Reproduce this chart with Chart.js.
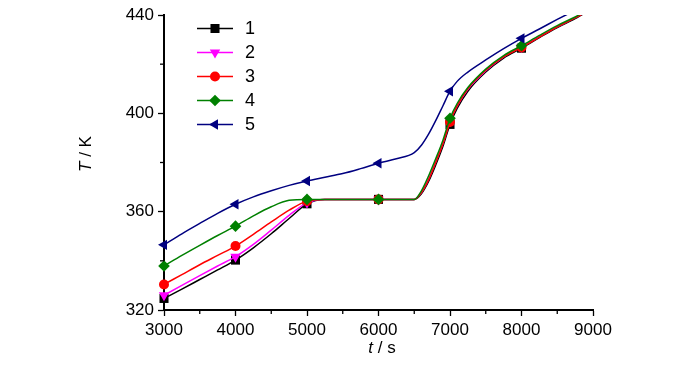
<!DOCTYPE html>
<html>
<head>
<meta charset="utf-8">
<script src="https://cdn.jsdelivr.net/npm/chart.js@4.4.1/dist/chart.umd.min.js"></script>
<style>
  html, body { margin: 0; padding: 0; background: #fff; }
  #wrap { width: 700px; height: 365px; position: relative; }
</style>
</head>
<body>
<div id="wrap"><canvas id="c" width="700" height="365"></canvas></div>
<script>
// ---- data ----
const seriesNames = ['1', '2', '3', '4', '5'];
const timesA = [3000,3250,3500,3750,4000,4250,4500,4750,5000,5250,5500,6000,6500,6600,6700,6800,6900,7000,7100,7250,7500,7750,8000,8250,8500,8750,8850];
const s1 = [324.7,328.5,332.4,336.3,340.3,345.3,351.0,357.2,363.2,365.0,365.0,365.0,365.0,367.3,372.3,379.0,386.5,395.5,402.0,409.0,416.8,422.5,426.5,430.8,434.9,438.5,440.2];
const s2 = [326.0,330.0,334.0,337.9,341.7,346.7,352.5,358.5,363.6,365.0,365.0,365.0,365.0,367.8,373.2,380.2,387.7,396.8,403.0,409.8,417.3,423.0,427.0,431.2,435.3,438.9,440.5];
const s3 = [330.4,334.4,338.4,342.2,346.0,350.8,355.8,360.6,364.3,365.0,365.0,365.0,365.0,367.8,373.0,380.0,387.5,396.5,403.0,410.0,417.5,423.0,426.8,431.0,435.2,438.8,440.4];
const s4 = [337.9,342.2,346.3,350.3,354.1,358.3,362.0,364.6,365.0,365.0,365.0,365.0,365.0,368.5,374.5,381.5,389.0,398.0,404.0,410.5,418.0,423.5,427.5,431.7,435.7,439.2,440.8];
const timesB = [3000,3250,3500,3750,4000,4250,4500,4750,5000,5250,5500,5750,6000,6250,6500,6600,6700,6800,6900,7000,7100,7250,7500,7750,8000,8250,8500,8700];
const s5 = [346.5,351.0,355.2,359.3,363.0,366.0,368.5,370.7,372.5,374.0,375.5,377.5,379.7,381.5,384.0,387.0,391.5,397.0,403.0,409.0,413.0,416.8,421.7,426.3,430.5,434.3,438.2,441.2];
const xTicks = [3000,4000,5000,6000,7000,8000,9000];
const yTicks = [320,360,400,440];

// ---- styles ----
const colors = ['#000000', '#ff00ff', '#ff0000', '#008000', '#000080'];
const styles = [
  {pointStyle: 'rect', radius: 6.4, rotation: 0},
  {pointStyle: 'triangle', radius: 6.0, rotation: 180},
  {pointStyle: 'circle', radius: 5.0, rotation: 0},
  {pointStyle: 'rectRot', radius: 5.8, rotation: 0},
  {pointStyle: 'triangle', radius: 6.0, rotation: 270}
];
const FONT = '"Liberation Sans", Arial, sans-serif';

function pts(ts, vs) { return ts.map((t, i) => ({x: t, y: vs[i]})); }
const allData = [pts(timesA, s1), pts(timesA, s2), pts(timesA, s3), pts(timesA, s4), pts(timesB, s5)];

const datasets = allData.map((d, i) => ({
  label: seriesNames[i],
  data: d,
  borderColor: colors[i],
  backgroundColor: colors[i],
  borderWidth: 1.5,
  pointStyle: styles[i].pointStyle,
  rotation: styles[i].rotation,
  pointRadius: ctx => (ctx.raw && ctx.raw.x % 1000 === 0 ? styles[i].radius : 0),
  pointBorderWidth: 0,
  pointHoverRadius: 0,
  cubicInterpolationMode: 'monotone',
  tension: 0.4,
  fill: false,
  order: 5 - i,
  clip: {left: 10, top: 0, right: 0, bottom: 10}
}));

const decor = {
  id: 'decor',
  afterDraw(chart) {
    const ctx = chart.ctx;
    const xs = chart.scales.x, ys = chart.scales.y;
    ctx.save();
    // minor ticks
    ctx.strokeStyle = '#000';
    ctx.lineWidth = 1.3;
    for (let i = 0; i < xTicks.length - 1; i++) {
      const px = xs.getPixelForValue((xTicks[i] + xTicks[i + 1]) / 2);
      ctx.beginPath(); ctx.moveTo(px, ys.bottom); ctx.lineTo(px, ys.bottom + 4); ctx.stroke();
    }
    for (let i = 0; i < yTicks.length - 1; i++) {
      const py = ys.getPixelForValue((yTicks[i] + yTicks[i + 1]) / 2);
      ctx.beginPath(); ctx.moveTo(xs.left, py); ctx.lineTo(xs.left - 4, py); ctx.stroke();
    }
    // legend
    for (let i = 0; i < 5; i++) {
      const y = 28.5 + i * 24;
      ctx.strokeStyle = colors[i];
      ctx.fillStyle = colors[i];
      ctx.lineWidth = 1.5;
      ctx.beginPath(); ctx.moveTo(197, y); ctx.lineTo(233, y); ctx.stroke();
      Chart.helpers.drawPoint(ctx, {pointStyle: styles[i].pointStyle, rotation: styles[i].rotation, radius: styles[i].radius, borderWidth: 0}, 215, y);
      ctx.fillStyle = '#000';
      ctx.font = '18px ' + FONT;
      ctx.textBaseline = 'middle';
      ctx.textAlign = 'left';
      ctx.fillText(seriesNames[i], 245, y + 1);
    }
    // axis titles
    function mixed(parts, cx, cy, rot) {
      ctx.save();
      ctx.translate(cx, cy);
      ctx.rotate(rot);
      let total = 0;
      parts.forEach(p => { ctx.font = p[1] + ' 17px ' + FONT; total += ctx.measureText(p[0]).width; });
      let x = -total / 2;
      ctx.fillStyle = '#000';
      ctx.textBaseline = 'middle';
      ctx.textAlign = 'left';
      parts.forEach(p => { ctx.font = p[1] + ' 17px ' + FONT; ctx.fillText(p[0], x, 0); x += ctx.measureText(p[0]).width; });
      ctx.restore();
    }
    mixed([['T', 'italic'], [' / K', 'normal']], 86, 154, -Math.PI / 2);
    mixed([['t', 'italic'], [' / s', 'normal']], 382, 348, 0);
    ctx.restore();
  }
};

new Chart(document.getElementById('c'), {
  type: 'line',
  data: {datasets},
  plugins: [decor],
  options: {
    responsive: false,
    animation: false,
    devicePixelRatio: 1,
    layout: {padding: {left: 0, top: 15, right: 107, bottom: 0}},
    plugins: {legend: {display: false}, tooltip: {enabled: false}},
    scales: {
      x: {
        type: 'linear', min: 3000, max: 9000,
        afterBuildTicks: s => { s.ticks = xTicks.map(v => ({value: v})); },
        afterFit: s => { s.height = 55; },
        border: {color: '#000', width: 2},
        grid: {drawOnChartArea: false, color: '#000', tickLength: 6, tickWidth: 1.3},
        ticks: {color: '#000', font: {family: FONT, size: 17}, padding: 4, maxRotation: 0, autoSkip: false, callback: v => String(v)}
      },
      y: {
        type: 'linear', min: 320, max: 440,
        afterBuildTicks: s => { s.ticks = yTicks.map(v => ({value: v})); },
        afterFit: s => { s.width = 164; },
        border: {color: '#000', width: 2},
        grid: {drawOnChartArea: false, color: '#000', tickLength: 6, tickWidth: 1.3},
        ticks: {color: '#000', font: {family: FONT, size: 17}, padding: 4, autoSkip: false, callback: v => String(v)}
      }
    }
  }
});
</script>
</body>
</html>
